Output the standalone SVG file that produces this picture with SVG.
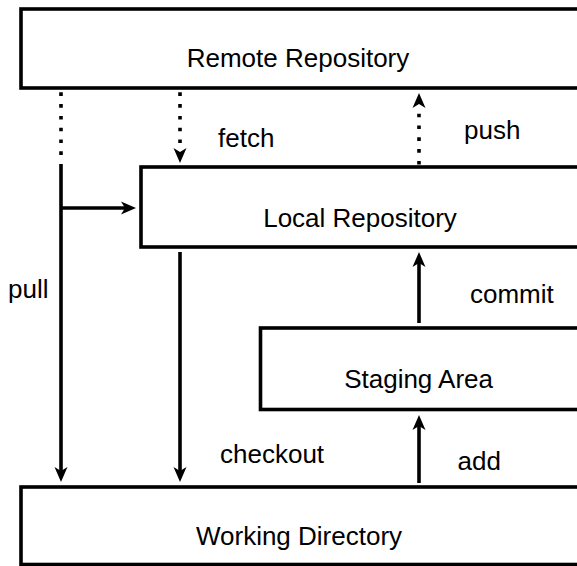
<svg xmlns="http://www.w3.org/2000/svg" width="577" height="566" viewBox="0 0 577 566">
<defs>
<style>
.box{fill:#fff;stroke:#000;stroke-width:3.6}
.t{font-family:"Liberation Sans",Arial,sans-serif;font-size:26px;fill:#000}
.c{text-anchor:middle}
.ln{fill:none;stroke:#000;stroke-width:3.6}
.dot{fill:none;stroke:#000;stroke-width:3.6;stroke-dasharray:3.6 8.2}
.ah{fill:#000;stroke:none}
</style>
<marker id="arr" viewBox="0 0 15 14" refX="4" refY="7" markerWidth="15" markerHeight="14" markerUnits="userSpaceOnUse" orient="auto">
<path d="M15 7 L0 0.5 L4 7 L0 13.5 Z" fill="#000"/>
</marker>
</defs>
<rect width="577" height="566" fill="#fff"/>
<g id="remote">
<rect class="box" x="21" y="9" width="600" height="79"/>
<text class="t c" x="298" y="67">Remote Repository</text>
</g>
<g id="local">
<rect class="box" x="141" y="167" width="480" height="80"/>
<text class="t c" x="360" y="227">Local Repository</text>
</g>
<g id="staging">
<rect class="box" x="260.5" y="328" width="400" height="81.5"/>
<text class="t c" x="418.6" y="388">Staging Area</text>
</g>
<g id="working">
<rect class="box" x="21" y="487" width="600" height="77.5"/>
<text class="t c" x="299" y="545">Working Directory</text>
</g>
<g id="connectors">
<path class="dot" d="M61 92.3 L61 158"/>
<path class="ln" d="M61 164 L61 471" marker-end="url(#arr)"/>
<path class="ln" d="M61 208 L125 208" marker-end="url(#arr)"/>
<path class="dot" d="M180 92.3 L180 146"/>
<path class="ah" d="M180 163 L173.5 148 L180 152 L186.5 148 Z"/>
<path class="dot" d="M419 164.5 L419 108"/>
<path class="ah" d="M419 93 L412.5 108 L419 104 L425.5 108 Z"/>
<path class="ln" d="M180 252 L180 471" marker-end="url(#arr)"/>
<path class="ln" d="M419 323 L419 263" marker-end="url(#arr)"/>
<path class="ln" d="M419 483 L419 426" marker-end="url(#arr)"/>
<text class="t" x="218" y="147">fetch</text>
<text class="t" x="464" y="139">push</text>
<text class="t" x="8" y="298">pull</text>
<text class="t" x="470" y="303">commit</text>
<text class="t" x="220" y="463">checkout</text>
<text class="t" x="457.5" y="470">add</text>
</g>
</svg>
